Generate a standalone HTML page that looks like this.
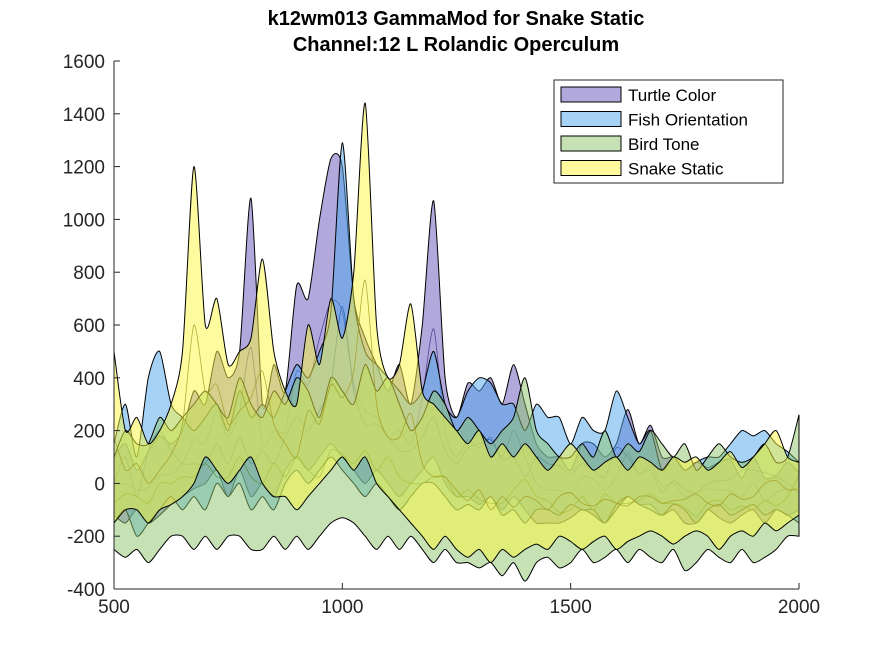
<!DOCTYPE html>
<html><head><meta charset="utf-8"><style>
body{margin:0;background:#fff;}
svg text{font-family:"Liberation Sans",sans-serif;}
</style></head><body>
<svg id="chart" width="884" height="663" xmlns="http://www.w3.org/2000/svg">
<rect width="884" height="663" fill="#fff"/>
<text x="456" y="25" text-anchor="middle" font-size="20" font-weight="bold" fill="#000">k12wm013 GammaMod for Snake Static</text>
<text x="456" y="51" text-anchor="middle" font-size="20" font-weight="bold" fill="#000">Channel:12 L Rolandic Operculum</text>
<g id="plot"></g>
<g id="axes"></g>
<g id="legend"></g>
</svg>
<script>
const xStart = 500, xStep = 25;
const seriesNames = ["Turtle Color","Fish Orientation","Bird Tone","Snake Static"];
const turtleUpper=[100,150,50,120,180,150,200,350,300,500,400,500,1080,300,450,350,750,700,1000,1230,1200,700,550,450,350,450,300,600,1070,400,250,380,350,400,300,450,300,150,100,100,50,150,150,100,150,280,150,220,100,100,50,80,60,80,90,20,100,20,30,80,40];
const turtleLower=[-120,-150,-100,-150,-120,-80,-50,-20,0,50,-50,50,-50,0,-50,50,100,50,100,150,100,50,0,50,0,-50,0,50,100,0,-50,-50,-80,-50,-100,-50,-100,-150,-150,-150,-130,-100,-120,-150,-100,-50,-80,-80,-120,-100,-150,-150,-100,-130,-150,-120,-100,-150,-100,-120,-100];
const fishUpper=[150,300,100,400,500,300,250,200,250,300,200,350,250,300,250,350,450,400,500,650,1290,700,500,450,400,350,300,350,500,300,250,350,400,380,300,300,200,300,250,250,150,250,200,200,350,250,150,200,50,100,50,80,100,100,150,200,180,200,150,120,80];
const fishLower=[-150,-100,-200,-150,-100,-50,-100,-50,-100,0,-50,0,-100,-50,-100,0,50,0,50,100,50,0,-50,0,-50,-100,-50,0,0,-50,-100,-80,-100,-50,-120,-100,-150,-100,-100,-120,-80,-100,-100,-150,-80,-50,-80,-100,-120,-80,-100,-150,-100,-80,-120,-100,-80,-120,-100,-120,-150];
const birdUpper=[100,200,150,150,250,200,250,300,350,300,250,400,300,250,350,300,400,350,250,400,350,300,450,350,400,300,200,250,350,300,200,250,200,150,200,250,400,200,150,100,100,150,100,200,100,150,120,200,150,100,150,50,100,150,100,80,100,150,80,100,260];
const birdLower=[-250,-280,-250,-300,-250,-200,-200,-250,-200,-250,-200,-200,-250,-250,-200,-250,-200,-250,-200,-150,-130,-150,-200,-250,-200,-250,-200,-250,-300,-250,-300,-300,-320,-300,-350,-300,-370,-300,-280,-320,-300,-250,-300,-280,-250,-300,-250,-280,-300,-250,-330,-300,-250,-280,-300,-250,-300,-280,-250,-200,-200];
const snakeUpper=[500,200,250,150,200,300,500,1200,600,700,450,500,550,850,500,350,300,600,450,700,550,800,1440,600,400,450,680,350,300,250,200,150,200,100,150,100,150,100,50,100,150,100,50,80,100,50,100,80,50,100,80,100,50,80,120,60,100,150,200,100,80];
const snakeLower=[-150,-100,-100,-150,-100,-80,-50,0,100,50,0,50,100,0,-50,-50,-100,-50,0,50,100,50,100,0,-50,-100,-150,-200,-250,-200,-250,-280,-250,-300,-250,-280,-250,-230,-250,-200,-220,-250,-220,-200,-250,-220,-200,-180,-200,-230,-200,-180,-200,-250,-200,-180,-200,-150,-180,-150,-120];
const xTicks=[500,1000,1500,2000];
const yTicks=[-400,-200,0,200,400,600,800,1000,1200,1400,1600];

const X0=114,X1=799,Y0=589,Y1=61;
const xs=v=>X0+(v-500)/(2000-500)*(X1-X0);
const ys=v=>Y0-(v+400)/(1600+400)*(Y0-Y1);
const NS="http://www.w3.org/2000/svg";
function mk(t,a){const e=document.createElementNS(NS,t);for(const k in a)e.setAttribute(k,a[k]);return e;}
function smooth(pts){let d="";for(let i=0;i<pts.length;i++){const p=pts[i];if(i===0){d+="M"+p[0].toFixed(1)+","+p[1].toFixed(1);continue;}
const p0=pts[Math.max(0,i-2)],p1=pts[i-1],p3=pts[Math.min(pts.length-1,i+1)];
const c1=[p1[0]+(p[0]-p0[0])/8,p1[1]+(p[1]-p0[1])/8],c2=[p[0]-(p3[0]-p1[0])/8,p[1]-(p3[1]-p1[1])/8];
d+="C"+c1.map(v=>v.toFixed(1))+" "+c2.map(v=>v.toFixed(1))+" "+p[0].toFixed(1)+","+p[1].toFixed(1);}return d;}
const series=[
 {u:turtleUpper,l:turtleLower,fill:"rgb(99,81,185)",line:"#3a2d8c",key:"turtle"},
 {u:fishUpper,l:fishLower,fill:"rgb(77,165,235)",line:"#1f5fb0",key:"fish"},
 {u:birdUpper,l:birdLower,fill:"rgb(141,197,107)",line:"#4f8a35",key:"bird"},
 {u:snakeUpper,l:snakeLower,fill:"rgb(251,247,61)",line:"#a09a20",key:"snake"}];
const plot=document.getElementById("plot");
series.forEach(s=>{
 const up=s.u.map((v,i)=>[xs(xStart+i*xStep),ys(v)]);
 const lo=s.l.map((v,i)=>[xs(xStart+i*xStep),ys(v)]).reverse();
 const dUp=smooth(up),dLo=smooth(lo);
 const band=mk("path",{d:dUp+" L"+dLo.slice(1)+" Z",fill:s.fill,"fill-opacity":"0.5",stroke:"#000","stroke-width":"1"});
 
 
 plot.appendChild(band);
 const mid=s.u.map((v,i)=>[xs(xStart+i*xStep),ys((v+s.l[i])/2)]);
 const ml=mk("path",{d:smooth(mid),fill:"none",stroke:s.line,"stroke-width":"0.8","stroke-opacity":"0.8"});
 
 
 plot.appendChild(ml);
});
const axes=document.getElementById("axes");
const xa=mk("path",{d:`M${X0},${Y0}H${X1}M${X0},${Y0}V${Y1}`,stroke:"#262626","stroke-width":"1",fill:"none"});


axes.appendChild(xa);
xTicks.forEach(t=>{const x=xs(t);
 axes.appendChild(mk("line",{x1:x,x2:x,y1:Y0,y2:Y0-6,stroke:"#262626"}));
 const tx=mk("text",{x:x,y:Y0+24,"text-anchor":"middle","font-size":"19",fill:"#262626"});tx.textContent=t;
 
 
 axes.appendChild(tx);});
yTicks.forEach(t=>{const y=ys(t);
 axes.appendChild(mk("line",{x1:X0,x2:X0+6,y1:y,y2:y,stroke:"#262626"}));
 const tx=mk("text",{x:X0-9,y:y+7,"text-anchor":"end","font-size":"19",fill:"#262626"});tx.textContent=t;
 
 
 axes.appendChild(tx);});
const lg=document.getElementById("legend");
const box=mk("rect",{x:554,y:80,width:229,height:103,fill:"#fff",stroke:"#262626","stroke-width":"1"});


lg.appendChild(box);
seriesNames.forEach((n,i)=>{const y=87+i*24.5;
 const sw=mk("rect",{x:561,y:y,width:60,height:15,fill:series[i].fill,"fill-opacity":"0.5",stroke:"#000","stroke-width":"1"});
 
 
 lg.appendChild(sw);
 const tx=mk("text",{x:628,y:y+14,"font-size":"17",fill:"#000"});tx.textContent=n;
 
 
 lg.appendChild(tx);});
</script>
</body></html>
